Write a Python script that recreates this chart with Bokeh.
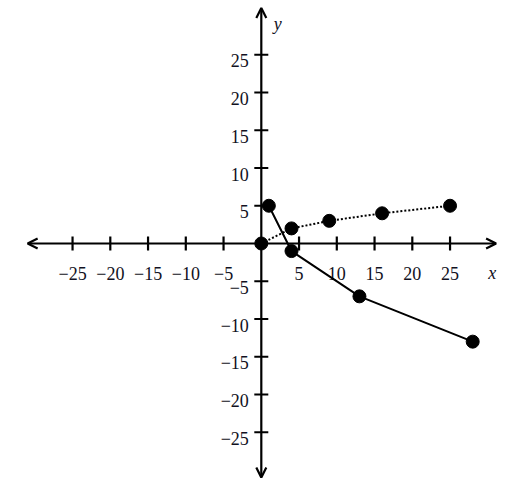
from bokeh.plotting import figure
from bokeh.models import Range1d, Arrow, OpenHead, ColumnDataSource
from bokeh.core.properties import value
from bokeh.embed import file_html
from bokeh.resources import INLINE

# ---- data ----
tick_values = [-25, -20, -15, -10, -5, 5, 10, 15, 20, 25]
tick_labels = ["\u221225", "\u221220", "\u221215", "\u221210", "\u22125",
               "5", "10", "15", "20", "25"]

solid_x = [1, 4, 13, 28]
solid_y = [5, -1, -7, -13]

dotted_x = [0, 4, 9, 16, 25]
dotted_y = [0, 2, 3, 4, 5]

# ---- figure ----
SCALE = 7.55  # px per unit
W, H = 500, 478
ox, oy = 260.8, 243.0  # origin in frame pixels
x0 = -ox / SCALE
x1 = x0 + W / SCALE
y1 = oy / SCALE
y0 = y1 - H / SCALE

p = figure(width=W, height=H, x_range=Range1d(x0, x1), y_range=Range1d(y0, y1),
           output_backend="svg", toolbar_location=None, min_border=0,
           x_axis_location=None, y_axis_location=None)
p.grid.visible = False
p.outline_line_color = None
p.background_fill_color = "white"
p.border_fill_color = "white"

FONT = value("Liberation Serif")
TXT = "#111122"
tick_half = 7 / SCALE

# axes with arrows
p.add_layout(Arrow(x_start=-30.95, y_start=0, x_end=31.1, y_end=0,
                   start=OpenHead(size=10, line_width=2.2),
                   end=OpenHead(size=10, line_width=2.2),
                   line_width=2.2, line_color="black"))
p.add_layout(Arrow(x_start=0, y_start=-31.0, x_end=0, y_end=31.2,
                   start=OpenHead(size=10, line_width=2.2),
                   end=OpenHead(size=10, line_width=2.2),
                   line_width=2.2, line_color="black"))

# tick marks
zeros = [0] * len(tick_values)
p.segment(x0=tick_values, y0=[-tick_half] * len(tick_values),
          x1=tick_values, y1=[tick_half] * len(tick_values),
          line_color="black", line_width=2.2)
p.segment(x0=[-tick_half] * len(tick_values), y0=tick_values,
          x1=[tick_half] * len(tick_values), y1=tick_values,
          line_color="black", line_width=2.2)

# tick labels
p.text(x=tick_values, y=zeros, text=tick_labels, text_font=FONT,
       text_font_size="18px", text_color=TXT, text_align="center",
       text_baseline="alphabetic", y_offset=29.5)
p.text(x=zeros, y=tick_values, text=tick_labels, text_font=FONT,
       text_font_size="18px", text_color=TXT, text_align="right",
       text_baseline="alphabetic", x_offset=-12.5, y_offset=6)

# axis names
p.text(x=[30.6], y=[0], text=["x"], text_font=FONT, text_font_size="18px",
       text_font_style="italic", text_color=TXT, text_align="center",
       text_baseline="alphabetic", y_offset=29.5)
p.text(x=[0], y=[29.1], text=["y"], text_font=FONT, text_font_size="18px",
       text_font_style="italic", text_color=TXT, text_align="left",
       text_baseline="alphabetic", x_offset=12.5)

# series
src_s = ColumnDataSource(dict(x=solid_x, y=solid_y))
src_d = ColumnDataSource(dict(x=dotted_x, y=dotted_y))
p.line("x", "y", source=src_d, line_color="black", line_width=2, line_dash="2 2")
p.line("x", "y", source=src_s, line_color="black", line_width=2)
p.scatter("x", "y", source=src_d, size=13, fill_color="black", line_color="black")
p.scatter("x", "y", source=src_s, size=13, fill_color="black", line_color="black")

open("out.html", "w").write(file_html(p, INLINE))
